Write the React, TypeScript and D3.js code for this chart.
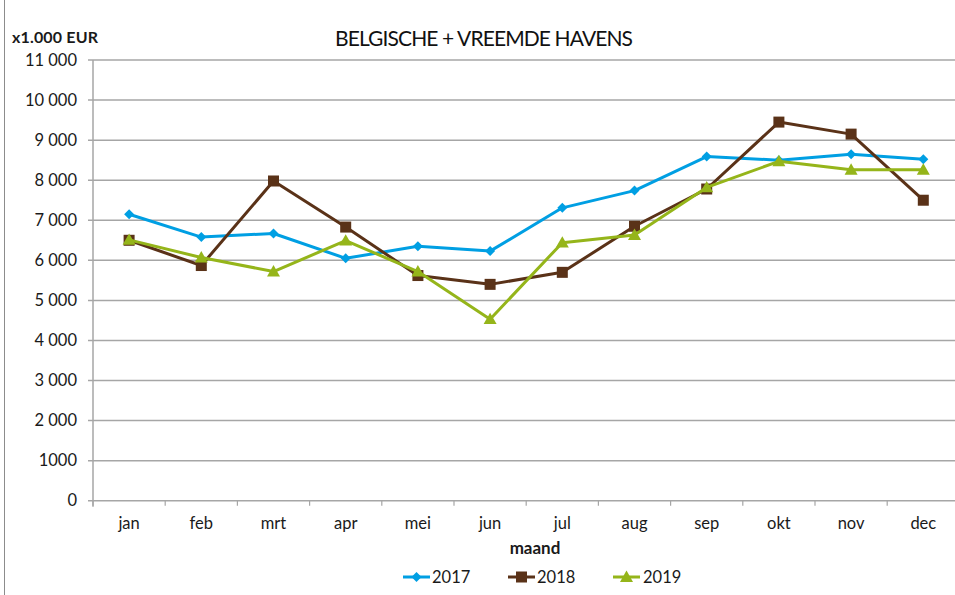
import React from "react";
import * as d3 from "d3";

const months = ["jan", "feb", "mrt", "apr", "mei", "jun", "jul", "aug", "sep", "okt", "nov", "dec"];
const s2017 = [7150, 6580, 6670, 6050, 6350, 6230, 7310, 7740, 8590, 8500, 8650, 8520];
const s2018 = [6500, 5870, 7980, 6830, 5620, 5400, 5700, 6850, 7780, 9450, 9150, 7500];
const s2019 = [6510, 6070, 5720, 6490, 5720, 4530, 6440, 6630, 7820, 8470, 8260, 8260];
const yTicks = [0, 1000, 2000, 3000, 4000, 5000, 6000, 7000, 8000, 9000, 10000, 11000];
const seriesNames = ["2017", "2018", "2019"];

const colors = ["#009fe3", "#5a3218", "#95b51a"];
const FONT = "Lato, 'Open Sans', sans-serif";

const fmt = (v: number) => {
  if (v === 1000) return "1000";
  return String(v).replace(/\B(?=(\d{3})+(?!\d))/g, " ");
};

function Marker({ type, x, y, color }: { type: number; x: number; y: number; color: string }) {
  if (type === 0) {
    const r = 5;
    return <path d={`M${x},${y - r}L${x + r},${y}L${x},${y + r}L${x - r},${y}Z`} fill={color} />;
  }
  if (type === 1) {
    const s = 11;
    return <rect x={x - s / 2} y={y - s / 2} width={s} height={s} fill={color} />;
  }
  const r = 6.5;
  return <path d={`M${x},${y - r}L${x + r},${y + r * 0.75}L${x - r},${y + r * 0.75}Z`} fill={color} />;
}

export default function App() {
  const W = 955, H = 595;
  const x = d3.scaleBand<string>().domain(months).range([93, 959.4]).padding(0);
  const y = d3.scaleLinear().domain([0, 11000]).range([500.7, 60]);
  const cx = (m: string) => (x(m) as number) + x.bandwidth() / 2;
  const data = [s2017, s2018, s2019];
  const line = d3
    .line<number>()
    .x((_, i) => cx(months[i]))
    .y((d) => y(d));

  const legendItems = [
    { lx: 403, tx: 432 },
    { lx: 508, tx: 537 },
    { lx: 613, tx: 643 },
  ];

  return (
    <div style={{ position: "absolute", left: 0, top: 0 }}>
      <svg width={W} height={H} style={{ display: "block", background: "#fff" }} fontFamily={FONT}>
        <rect x={0} y={0} width={W} height={H} fill="#fff" />
        <line x1={4.5} x2={4.5} y1={0} y2={H} stroke="#8c8c8c" strokeWidth={1} />
        {yTicks.map((t) => (
          <line key={t} x1={88} x2={W} y1={y(t)} y2={y(t)} stroke="#a6a6a6" strokeWidth={1.5} />
        ))}
        <line x1={93} x2={93} y1={y(11000)} y2={y(0) + 6} stroke="#a6a6a6" strokeWidth={1.5} />
        {months.map((m) => (
          <line key={m} x1={x(m)} x2={x(m)} y1={y(0)} y2={y(0) + 5} stroke="#a6a6a6" strokeWidth={1.2} />
        ))}
        {yTicks.map((t) => (
          <text key={t} x={77} y={y(t)} dy="0.35em" textAnchor="end" fontSize={16.5} fill="#1a1a1a">
            {fmt(t)}
          </text>
        ))}
        {months.map((m) => (
          <text key={m} x={cx(m)} y={529} textAnchor="middle" fontSize={16.5} fill="#1a1a1a">
            {m}
          </text>
        ))}
        <text x={535} y={554} textAnchor="middle" fontSize={17} fontWeight="bold" fill="#1a1a1a">
          maand
        </text>
        <text x={12} y={43} fontSize={16} fontWeight="bold" fill="#1a1a1a" textLength={86}>
          x1.000 EUR
        </text>
        <text x={484} y={46} textAnchor="middle" fontSize={21} fill="#111" textLength={298}>
          BELGISCHE + VREEMDE HAVENS
        </text>
        {data.map((s, k) => (
          <g key={k}>
            <path d={line(s) || ""} fill="none" stroke={colors[k]} strokeWidth={3} strokeLinejoin="round" />
            {s.map((v, i) => (
              <Marker key={i} type={k} x={cx(months[i])} y={y(v)} color={colors[k]} />
            ))}
          </g>
        ))}
        {legendItems.map((it, k) => (
          <g key={k}>
            <line x1={it.lx} x2={it.lx + 27} y1={577} y2={577} stroke={colors[k]} strokeWidth={3} />
            <Marker type={k} x={it.lx + 13.5} y={577} color={colors[k]} />
            <text x={it.tx} y={577} dy="0.35em" fontSize={16.5} fill="#1a1a1a">
              {seriesNames[k]}
            </text>
          </g>
        ))}
      </svg>
    </div>
  );
}
